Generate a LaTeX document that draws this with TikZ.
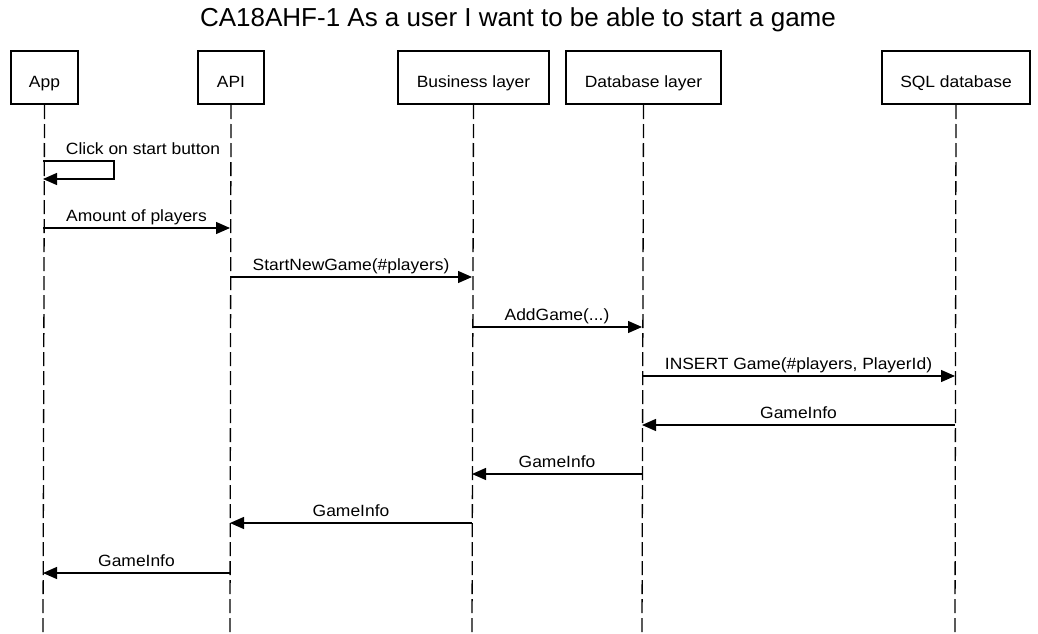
\documentclass[tikz,border=0pt]{standalone}
\usepackage{fontspec}
\setmainfont{Liberation Sans}
\newfontfamily\lblfont{Liberation Sans}[FakeStretch=1.07]
\usetikzlibrary{arrows.meta}
\begin{document}
\begin{tikzpicture}[x=1pt,y=-1pt,
  actor/.style={draw,line width=2pt,minimum height=53pt,inner sep=0pt,text height=20pt,text depth=0pt,font=\lblfont\fontsize{16.3}{18}\selectfont,anchor=north west},
  life/.style={line width=1.3pt,dash pattern=on 14pt off 5pt},
  msg/.style={line width=1.3pt,-{Triangle[length=14pt,width=12pt]}},
  lbl/.style={font=\lblfont\fontsize{16.3}{18}\selectfont,inner sep=0pt,anchor=base}]
\useasboundingbox (0,0) rectangle (1038,634);
\node[font=\fontsize{26}{30}\selectfont,inner sep=0pt,anchor=base] (title) at (518,26.7) {CA18AHF-1 As a user I want to be able to start a game};
\node[actor,minimum width=67pt] (app) at (10,50) {App};
\node[actor,minimum width=66pt] (api) at (197,50) {API};
\node[actor,minimum width=151pt] (bl) at (397,50) {Business layer};
\node[actor,minimum width=155pt] (dl) at (565,50) {Database layer};
\node[actor,minimum width=148pt] (sql) at (881,50) {SQL database};
\foreach \n/\x in {app/43,api/230,bl/472,dl/642,sql/955}{
  \coordinate (\n end) at (\x,634);
  \draw[life] (\n.south) -- (\n end);
}
\foreach \n/\x in {app/43,api/230,bl/472,dl/642,sql/955}{
  \foreach \i/\y in {a/161,b/179,c/228,d/277,e/327,f/376,g/425,h/474,i/523,j/573}{
    \coordinate (\n\i) at (\x,\y);
  }
}
\coordinate (selfA) at (114,161);
\coordinate (selfB) at (114,179);
\draw[msg] (appa) -- (selfA) -- (selfB) -- (appb);
\node[lbl] (l1) at (143,154.5) {Click on start button};
\draw[msg] (appc) -- (apic) node[lbl,midway,yshift=7pt] (l2) {Amount of players};
\draw[msg] (apid) -- (bld) node[lbl,midway,yshift=7pt] (l3) {StartNewGame(\#players)};
\draw[msg] (ble) -- (dle) node[lbl,midway,yshift=7pt] (l4) {AddGame(...)};
\draw[msg] (dlf) -- (sqlf) node[lbl,midway,yshift=7pt] (l5) {INSERT Game(\#players, PlayerId)};
\draw[msg] (sqlg) -- (dlg) node[lbl,midway,yshift=7pt] (l6) {GameInfo};
\draw[msg] (dlh) -- (blh) node[lbl,midway,yshift=7pt] (l7) {GameInfo};
\draw[msg] (bli) -- (apii) node[lbl,midway,yshift=7pt] (l8) {GameInfo};
\draw[msg] (apij) -- (appj) node[lbl,midway,yshift=7pt] (l9) {GameInfo};
\end{tikzpicture}
\end{document}
